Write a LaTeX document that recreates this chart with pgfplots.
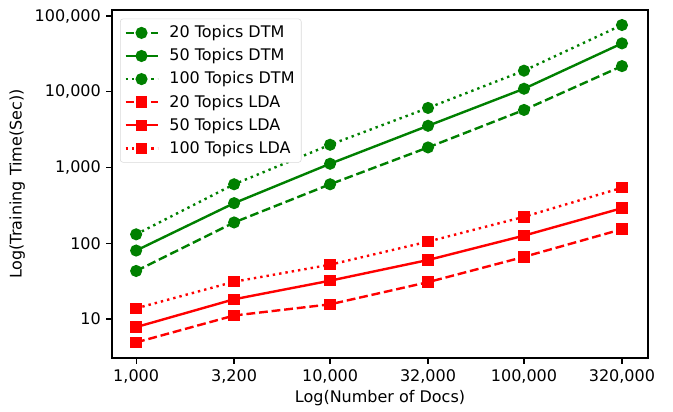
\documentclass[border=0pt]{standalone}
\usepackage{fontspec}
\setmainfont{DejaVu Sans}
\usepackage{pgfplots}
\pgfplotsset{compat=1.18}
\definecolor{mgreen}{rgb}{0,0.5,0}
\definecolor{mred}{rgb}{1,0,0}
\begin{document}
\fontsize{12}{14}\selectfont
\begin{tikzpicture}
\useasboundingbox (-84pt,-39.75pt) rectangle (420.75pt,268.5pt);
\begin{axis}[
  scale only axis,
  width=402pt, height=261pt,
  xmode=log, ymode=log,
  xmin=751, xmax=436000,
  ymin=3.05, ymax=120000,
  xtick={1000,3200,10000,32000,100000,320000},
  xticklabels={1{,}000,3{,}200,10{,}000,32{,}000,100{,}000,320{,}000},
  ytick={10,100,1000,10000,100000},
  yticklabels={10,100,1{,}000,10{,}000,100{,}000},
  minor tick style={draw=none},
  tick align=outside,
  xtick pos=bottom, ytick pos=left,
  major tick length=4.2pt,
  tick style={line width=0.9pt, black},
  axis line style={line width=0.9pt},
  /pgf/number format/assume math mode=true,
  tick label style={font=\fontsize{12}{14}\selectfont},
  label style={font=\fontsize{12}{14}\selectfont},
  xlabel={Log(Number of Docs)},
  ylabel={Log(Training Time(Sec))},
  xlabel style={yshift=3pt},
  ylabel style={yshift=-1pt},
  legend style={at={(0.015,0.975)}, anchor=north west, draw=black!15, rounded corners=2pt,
    font=\fontsize{12}{14}\selectfont, row sep=2.4pt, inner sep=3pt,
    /tikz/every odd column/.append style={column sep=6pt}},
  legend cell align=left,
  legend image code/.code={
    \draw[mark repeat=2,mark phase=2] plot coordinates {(0pt,0pt) (12pt,0pt) (24pt,0pt)};
  },
  every axis plot/.append style={line width=1.8pt, line cap=butt, mark size=3.6pt},
]
\addplot[mgreen, dash pattern=on 6.6pt off 2.9pt, mark=*, mark options={solid}] coordinates {
(1000,43) (3200,188) (10000,600) (32000,1840) (100000,5750) (320000,21800)};
\addlegendentry{20 Topics DTM}
\addplot[mgreen, solid, mark=*] coordinates {
(1000,80) (3200,338) (10000,1120) (32000,3550) (100000,10950) (320000,43500)};
\addlegendentry{50 Topics DTM}
\addplot[mgreen, dash pattern=on 1.8pt off 3pt, mark=*, mark options={solid}] coordinates {
(1000,131) (3200,600) (10000,1995) (32000,6110) (100000,18970) (320000,76000)};
\addlegendentry{100 Topics DTM}
\addplot[mred, dash pattern=on 6.6pt off 2.9pt, mark=square*, mark size=3.4pt, mark options={solid}] coordinates {
(1000,4.9) (3200,11.1) (10000,15.6) (32000,30.6) (100000,66) (320000,153)};
\addlegendentry{20 Topics LDA}
\addplot[mred, solid, mark=square*, mark size=3.4pt] coordinates {
(1000,7.8) (3200,18.2) (10000,32) (32000,60) (100000,126) (320000,290)};
\addlegendentry{50 Topics LDA}
\addplot[mred, dash pattern=on 1.8pt off 3pt, mark=square*, mark size=3.4pt, mark options={solid}] coordinates {
(1000,13.8) (3200,31) (10000,52) (32000,105) (100000,223) (320000,540)};
\addlegendentry{100 Topics LDA}
\end{axis}
\end{tikzpicture}
\end{document}
